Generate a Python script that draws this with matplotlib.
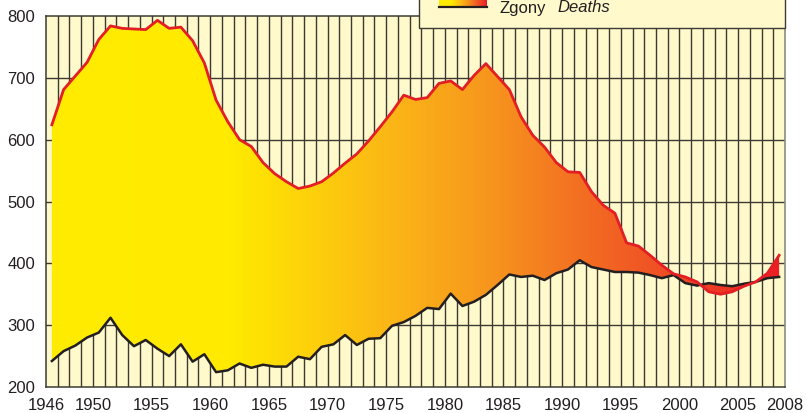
import matplotlib
matplotlib.use("Agg")
import matplotlib.pyplot as plt
import numpy as np
from matplotlib.colors import LinearSegmentedColormap
from matplotlib.patches import Polygon, Rectangle

years = np.arange(1946, 2009)

# Urodzenia (births), tys.
births = [
    624, 681, 703, 725, 762, 784, 780, 779, 778, 793,
    780, 782, 760, 724, 664, 629, 600, 589, 563, 545,
    532, 521, 525, 532, 546, 562, 577, 598, 621, 645,
    672, 665, 668, 691, 695, 681, 704, 723, 702, 681,
    637, 607, 588, 563, 548, 547, 516, 494, 481, 433,
    428, 413, 397, 383, 378, 370, 354, 350, 354, 363,
    370, 384, 413,
]

# Zgony (deaths), tys.
deaths = [
    242, 258, 267, 280, 288, 312, 284, 266, 276, 262,
    250, 269, 241, 253, 224, 227, 238, 231, 236, 233,
    233, 249, 245, 265, 269, 284, 268, 278, 279, 299,
    305, 315, 328, 326, 351, 331, 338, 349, 365, 382,
    378, 380, 373, 384, 390, 405, 394, 390, 386, 386,
    385, 381, 376, 381, 368, 364, 368, 365, 363, 367,
    370, 376, 378,
]

tick_years = [1946, 1950, 1955, 1960, 1965, 1970, 1975, 1980, 1985, 1990, 1995, 2000, 2005, 2009]
tick_labels = ["1946", "1950", "1955", "1960", "1965", "1970", "1975", "1980",
               "1985", "1990", "1995", "2000", "2005", "2008"]
y_ticks = [200, 300, 400, 500, 600, 700, 800]

BG = "#FFF9CC"
GRID = "#3c3a32"
TEXT = "#231F20"

grad = LinearSegmentedColormap.from_list("deaths", [
    (0.00, "#FFEC00"),
    (0.25, "#FFEA00"),
    (0.36, "#FDD00B"),
    (0.48, "#FBB317"),
    (0.60, "#F7961D"),
    (0.72, "#F37022"),
    (0.85, "#EF4B25"),
    (1.00, "#EC1C24"),
])

plt.rcParams["font.family"] = ["Liberation Sans", "DejaVu Sans"]

fig = plt.figure(figsize=(8.06, 4.13), dpi=100)
ax = fig.add_axes([46 / 806, 1 - 387 / 413, (785 - 46) / 806, (387 - 16) / 413])
ax.set_facecolor(BG)

x = years + 0.5

# grid
for yr in range(1947, 2009):
    ax.axvline(yr, color=GRID, lw=1.0, zorder=1)
for yv in y_ticks[1:-1]:
    ax.axhline(yv, color=GRID, lw=1.0, zorder=1)

# gradient fill between the two curves
verts = np.vstack([np.column_stack([x, births]), np.column_stack([x[::-1], deaths[::-1]])])
poly = Polygon(verts, closed=True, facecolor="none", edgecolor="none")
ax.add_patch(poly)
img = ax.imshow(np.linspace(0, 1, 256).reshape(1, -1), cmap=grad, aspect="auto",
                extent=[1946, 2009, 200, 800], zorder=2, interpolation="bilinear")
img.set_clip_path(poly)
ax.set_xlim(1946, 2009)
ax.set_ylim(200, 800)

ax.plot(x, deaths, color="#231F20", lw=1.8, zorder=3)
ax.plot(x, births, color="#E31E24", lw=2.0, zorder=4)

ax.set_xticks(tick_years)
ax.set_xticklabels(tick_labels)
ax.set_yticks(y_ticks)
ax.tick_params(length=0, labelsize=12, colors=TEXT)
ax.tick_params(axis="y", pad=8)
ax.tick_params(axis="x", pad=8)

for side in ["left", "bottom", "top"]:
    ax.spines[side].set_color(GRID)
    ax.spines[side].set_linewidth(1.1)
    ax.spines[side].set_zorder(5)
ax.spines["right"].set_color("#8c8a80")
ax.spines["right"].set_linewidth(1.2)

# legend box (cut off at the top of the figure)
fig.add_artist(Rectangle((419 / 806, 1 - 28 / 413), (785 - 419) / 806, 0.2,
                         transform=fig.transFigure, facecolor=BG, edgecolor=GRID,
                         lw=1.0, zorder=10))
sw = fig.add_axes([439 / 806, 1 - 6 / 413, 48 / 806, 8 / 413], zorder=11)
sw.imshow(np.linspace(0, 1, 64).reshape(1, -1), cmap=grad, aspect="auto")
sw.set_axis_off()
fig.add_artist(plt.Line2D([439 / 806, 487 / 806], [1 - 7 / 413, 1 - 7 / 413],
                          transform=fig.transFigure, color="#231F20", lw=1.6, zorder=12))
fig.text(499 / 806, 1 - 8 / 413, "Zgony", fontsize=12, color=TEXT, va="center", zorder=12)
fig.text(557 / 806, 1 - 8 / 413, "Deaths", fontsize=12, color=TEXT, va="center",
         style="italic", zorder=12)

fig.savefig("out.png", dpi=100, facecolor="white")
